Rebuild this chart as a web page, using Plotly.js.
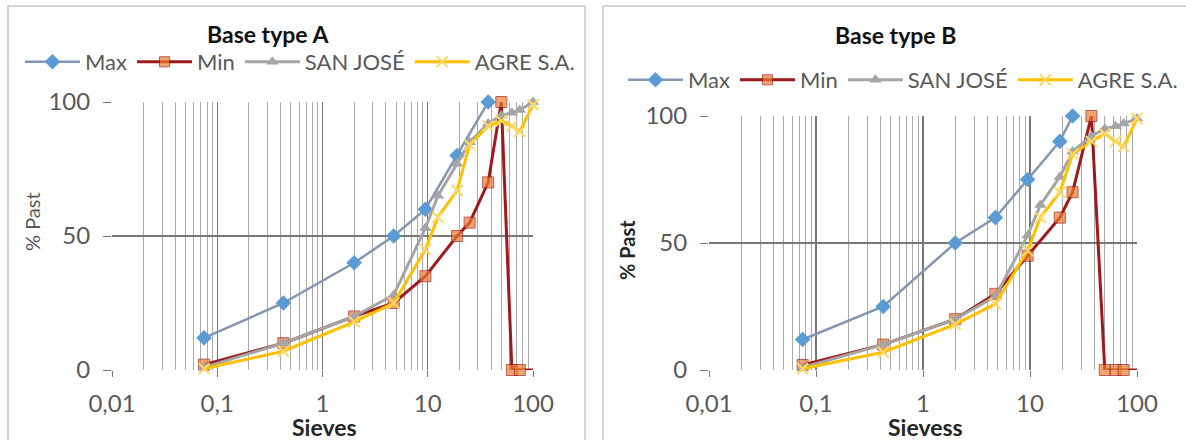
<!DOCTYPE html>
<html>
<head>
<meta charset="utf-8">
<script src="https://cdn.plot.ly/plotly-3.0.1.min.js"></script>
<style>html,body{margin:0;padding:0;background:#fff;}#chart{width:1186px;height:440px;}</style>
</head>
<body>
<div id="chart"></div>
<script>
// ---- data ----
const seriesNames = ['Max', 'Min', 'SAN JOSÉ', 'AGRE S.A.'];
const xTickVals = [0.01, 0.1, 1, 10, 100];
const xTickText = ['0,01', '0,1', '1', '10', '100'];
const yTickVals = [0, 50, 100];

const sieves = [0.075, 0.425, 2, 4.75, 9.5, 12.5, 19, 25, 37.5, 50, 63, 75, 100];

// Base type A
const maxA_x = [0.075, 0.425, 2, 4.75, 9.5, 19, 37.5];
const maxA_y = [12, 25, 40, 50, 60, 80, 100];
const minA_x = [0.075, 0.425, 2, 4.75, 9.5, 19, 25, 37.5, 50, 63, 75, 100];
const minA_y = [2, 10, 20, 25, 35, 50, 55, 70, 100, 0, 0, 0];
const sanA_y = [1, 10, 20, 28, 53, 65, 77, 85, 92, 95, 96, 97, 100];
const agreA_y = [0.5, 7, 18, 25, 45, 57, 67, 84, 91, 93, 91, 89, 99];

// Base type B
const maxB_x = [0.075, 0.425, 2, 4.75, 9.5, 19, 25];
const maxB_y = [12, 25, 50, 60, 75, 90, 100];
const minB_x = [0.075, 0.425, 2, 4.75, 9.5, 19, 25, 37.5, 50, 63, 75, 100];
const minB_y = [2, 10, 20, 30, 45, 60, 70, 100, 0, 0, 0, 0];
const sanB_y = [1, 10, 20, 29, 53, 65, 76, 86, 92, 95, 96, 97, 99];
const agreB_y = [0.5, 7, 18, 26, 47, 60, 70, 85, 90, 93, 90, 88, 99];

// ---- styles ----
const FONT = 'Lato, "Open Sans", sans-serif';
const W = 1186, H = 440;
const px = v => v / W, py = v => 1 - v / H;

function styles(i) {
  return [
    {line: {color: '#8497b0', width: 2.5}, marker: {symbol: 'diamond', size: 12, color: '#5b9bd5'}},
    {line: {color: '#9e1a1a', width: 3}, marker: {symbol: 'square', size: 11, color: '#ed7d31'}},
    {line: {color: '#a5a5a5', width: 3}, marker: {symbol: 'triangle-up', size: 11, color: '#a5a5a5'}},
    {line: {color: '#ffc000', width: 3}, marker: {symbol: 'x-thin', size: 11, color: '#ffd966', line: {color: '#ffd966', width: 2}}}
  ][i];
}

function mk(name, i, x, y, xa, ya, lg, hideLast) {
  const s = styles(i);
  const marker = Object.assign({}, s.marker);
  if (hideLast) marker.size = x.map((v, k) => k === x.length - 1 ? 0 : s.marker.size);
  return {
    type: 'scatter', mode: 'lines+markers', name: name,
    x: x, y: y, xaxis: xa, yaxis: ya, legend: lg,
    line: s.line, marker: marker, cliponaxis: false
  };
}

const traces = [
  mk(seriesNames[0], 0, maxA_x, maxA_y, 'x', 'y', 'legend'),
  mk(seriesNames[1], 1, minA_x, minA_y, 'x', 'y', 'legend', true),
  mk(seriesNames[2], 2, sieves, sanA_y, 'x', 'y', 'legend'),
  mk(seriesNames[3], 3, sieves, agreA_y, 'x', 'y', 'legend'),
  mk(seriesNames[0], 0, maxB_x, maxB_y, 'x2', 'y2', 'legend2'),
  mk(seriesNames[1], 1, minB_x, minB_y, 'x2', 'y2', 'legend2', true),
  mk(seriesNames[2], 2, sieves, sanB_y, 'x2', 'y2', 'legend2'),
  mk(seriesNames[3], 3, sieves, agreB_y, 'x2', 'y2', 'legend2')
];

function xaxis(d0, d1, anchor) {
  return {
    domain: [px(d0), px(d1)], anchor: anchor, type: 'log', range: [-2, 2],
    tickmode: 'array', tickvals: xTickVals, ticktext: xTickText,
    showgrid: true, gridcolor: '#777777', gridwidth: 1.2,
    minor: {dtick: 'D1', showgrid: true, gridcolor: '#aaaaaa', gridwidth: 1, ticks: ''},
    ticks: 'outside', ticklen: 6, tickcolor: '#777777',
    showline: false, zeroline: false, ticklabelstandoff: 6,
    tickfont: {family: FONT, size: 24, color: '#595959'}, fixedrange: true
  };
}
function yaxis(top, anchor) {
  return {
    domain: [py(370), py(top)], anchor: anchor, range: [0, 100],
    tickmode: 'array', tickvals: yTickVals,
    showgrid: true, gridcolor: '#777777', gridwidth: 1.2,
    ticks: 'outside', ticklen: 8, tickcolor: '#777777',
    showline: false, zeroline: false, ticklabelstandoff: 8,
    tickfont: {family: FONT, size: 24, color: '#595959'}, fixedrange: true
  };
}

const legendBase = {
  orientation: 'h', xanchor: 'left', yanchor: 'middle',
  font: {family: FONT, size: 22, color: '#595959'},
  bgcolor: 'rgba(0,0,0,0)', borderwidth: 0, itemwidth: 55, traceorder: 'normal'
};

const layout = {
  width: W, height: H, margin: {l: 0, r: 0, t: 0, b: 0, autoexpand: false},
  paper_bgcolor: '#fff', plot_bgcolor: '#fff', showlegend: true,
  separators: ', ',
  xaxis: xaxis(112, 533, 'y'),
  yaxis: yaxis(102, 'x'),
  xaxis2: xaxis(709, 1137, 'y2'),
  yaxis2: yaxis(116, 'x2'),
  legend: Object.assign({x: px(20), y: py(62)}, legendBase),
  legend2: Object.assign({x: px(623), y: py(80)}, legendBase),
  shapes: [
    {type: 'rect', xref: 'paper', yref: 'paper', x0: px(8), x1: px(585), y0: -0.05, y1: py(6), line: {color: '#c8c8c8', width: 1.5}, layer: 'below'},
    {type: 'rect', xref: 'paper', yref: 'paper', x0: px(603), x1: 1.01, y0: -0.05, y1: py(6), line: {color: '#c8c8c8', width: 1.5}, layer: 'below'}
  ],
  annotations: [
    {text: '<b>Base type A</b>', xref: 'paper', yref: 'paper', x: px(268), y: py(34), showarrow: false, font: {family: FONT, size: 23, color: '#111'}, xanchor: 'center', yanchor: 'middle'},
    {text: '<b>Base type B</b>', xref: 'paper', yref: 'paper', x: px(895), y: py(35), showarrow: false, font: {family: FONT, size: 23, color: '#111'}, xanchor: 'center', yanchor: 'middle'},
    {text: '% Past', xref: 'paper', yref: 'paper', x: px(32), y: py(222), textangle: -90, showarrow: false, font: {family: FONT, size: 20, color: '#595959'}, xanchor: 'center', yanchor: 'middle'},
    {text: '<b>% Past</b>', xref: 'paper', yref: 'paper', x: px(627), y: py(250), textangle: -90, showarrow: false, font: {family: FONT, size: 20, color: '#262626'}, xanchor: 'center', yanchor: 'middle'},
    {text: '<b>Sieves</b>', xref: 'paper', yref: 'paper', x: px(324), y: py(427), showarrow: false, font: {family: FONT, size: 23, color: '#262626'}, xanchor: 'center', yanchor: 'middle'},
    {text: '<b>Sievess</b>', xref: 'paper', yref: 'paper', x: px(925), y: py(427), showarrow: false, font: {family: FONT, size: 23, color: '#262626'}, xanchor: 'center', yanchor: 'middle'}
  ]
};

Plotly.newPlot('chart', traces, layout, {displayModeBar: false, staticPlot: true});
</script>
</body>
</html>
